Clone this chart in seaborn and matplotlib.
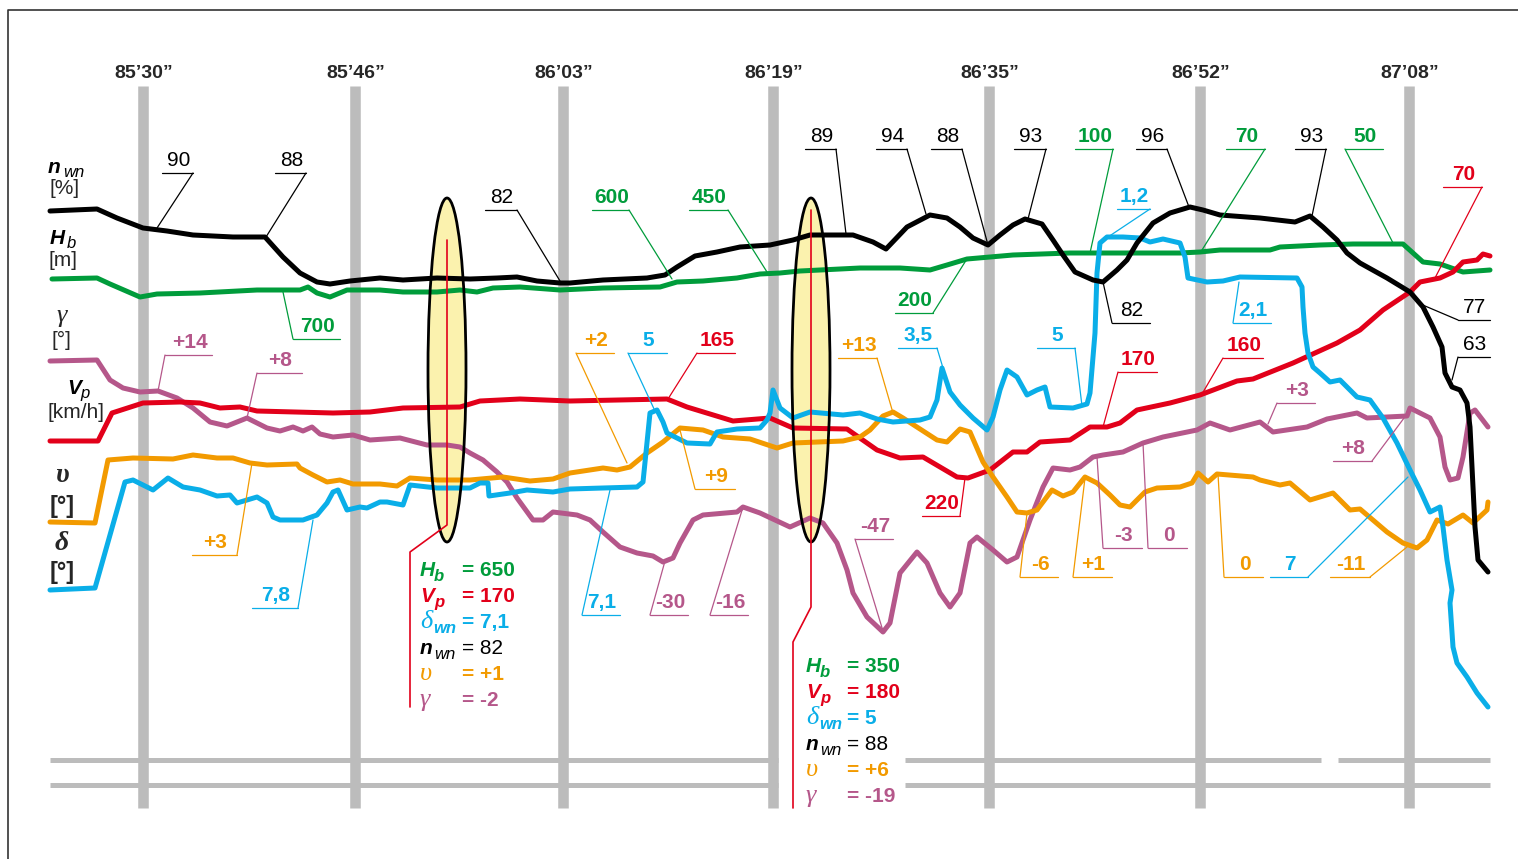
import matplotlib
matplotlib.use('Agg')
import matplotlib.pyplot as plt
from matplotlib import font_manager
from matplotlib.patches import Ellipse
import pandas as pd
import seaborn as sns

# series traces (x along the run, y down the sheet)
nwn_trace = [(50, 211), (97, 209), (117, 218), (143, 228), (167, 231), (193, 235), (233, 237), (265, 237),
             (283, 257), (300, 273), (317, 282), (330, 284), (350, 281), (380, 278), (403, 280), (437, 278),
             (470, 279), (497, 278), (517, 277), (537, 281), (560, 283), (570, 283), (603, 280), (647, 278),
             (665, 275), (677, 267), (695, 256), (717, 252), (740, 247), (770, 245), (793, 240), (810, 235),
             (853, 235), (873, 242), (886, 249), (907, 227), (930, 215), (947, 218), (960, 227), (973, 238),
             (988, 245), (1000, 235), (1013, 225), (1025, 219), (1042, 224), (1053, 240), (1063, 255),
             (1075, 272), (1093, 280), (1103, 282), (1117, 270), (1127, 260), (1137, 243), (1153, 223),
             (1170, 213), (1190, 207), (1203, 210), (1220, 215), (1260, 218), (1295, 222), (1310, 216),
             (1323, 227), (1337, 240), (1347, 253), (1360, 263), (1387, 278), (1410, 292), (1423, 307),
             (1433, 327), (1442, 347), (1445, 373), (1452, 387), (1460, 390), (1467, 403), (1470, 427),
             (1473, 487), (1475, 527), (1478, 560), (1488, 572)]

hb_trace = [(52, 279), (97, 278), (110, 284), (140, 297), (157, 294), (200, 293), (257, 290), (300, 290),
            (308, 287), (317, 293), (330, 297), (347, 290), (380, 290), (403, 292), (437, 292), (460, 290),
            (477, 292), (493, 288), (520, 287), (560, 290), (603, 288), (660, 287), (677, 282), (703, 281),
            (737, 278), (760, 274), (780, 273), (800, 271), (860, 268), (900, 268), (930, 270), (947, 265),
            (967, 259), (1013, 255), (1070, 253), (1137, 253), (1180, 253), (1200, 252), (1220, 250),
            (1270, 250), (1280, 247), (1320, 245), (1353, 244), (1403, 244), (1423, 262), (1440, 264),
            (1463, 272), (1490, 270)]

vp_trace = [(50, 441), (98, 441), (112, 413), (143, 403), (180, 402), (200, 403), (220, 408), (240, 407),
            (257, 411), (333, 413), (370, 412), (403, 408), (460, 407), (480, 401), (520, 399), (570, 401),
            (667, 399), (687, 407), (733, 421), (770, 418), (793, 428), (847, 429), (877, 450), (900, 458),
            (923, 457), (957, 477), (968, 478), (990, 470), (1013, 452), (1027, 452), (1040, 442),
            (1070, 440), (1090, 427), (1107, 427), (1120, 423), (1137, 410), (1170, 403), (1200, 395),
            (1237, 381), (1253, 379), (1293, 363), (1337, 343), (1360, 330), (1383, 310), (1410, 292),
            (1420, 282), (1440, 278), (1453, 272), (1463, 262), (1477, 260), (1483, 254), (1490, 256)]

gamma_trace = [(50, 361), (97, 360), (110, 380), (123, 388), (140, 392), (158, 391), (177, 398), (193, 408),
               (210, 422), (227, 426), (247, 418), (267, 428), (280, 431), (293, 427), (303, 431), (312, 427),
               (320, 434), (333, 437), (353, 435), (370, 440), (400, 438), (427, 445), (447, 445), (460, 447),
               (470, 453), (483, 460), (497, 472), (507, 482), (517, 498), (533, 520), (543, 520), (553, 512),
               (577, 515), (590, 520), (603, 532), (620, 547), (637, 553), (653, 556), (663, 562), (673, 558),
               (680, 543), (693, 520), (703, 515), (737, 512), (743, 507), (760, 513), (790, 527), (810, 518),
               (823, 523), (837, 543), (847, 570), (853, 593), (867, 617), (883, 632), (890, 623), (900, 573),
               (917, 552), (927, 563), (940, 593), (950, 607), (960, 593), (970, 543), (977, 537), (993, 550),
               (1007, 562), (1017, 557), (1030, 520), (1043, 487), (1053, 468), (1070, 470), (1080, 467),
               (1093, 457), (1103, 455), (1123, 452), (1143, 443), (1163, 437), (1197, 430), (1210, 423),
               (1230, 430), (1260, 422), (1273, 432), (1307, 427), (1327, 419), (1357, 413), (1367, 418),
               (1407, 416), (1410, 408), (1430, 418), (1440, 437), (1445, 467), (1450, 480), (1458, 478),
               (1463, 457), (1470, 413), (1475, 410), (1488, 427)]

upsilon_trace = [(50, 522), (95, 523), (108, 460), (133, 458), (173, 459), (193, 455), (217, 458), (233, 458),
                 (250, 463), (267, 465), (297, 464), (300, 468), (313, 475), (327, 482), (340, 480), (353, 484),
                 (380, 484), (397, 486), (410, 478), (437, 480), (470, 480), (503, 477), (530, 481), (553, 479),
                 (570, 473), (603, 468), (617, 470), (630, 467), (647, 453), (663, 442), (680, 428), (703, 430),
                 (723, 437), (750, 439), (777, 448), (793, 443), (843, 441), (860, 437), (870, 430), (883, 416),
                 (893, 412), (903, 418), (920, 429), (937, 440), (947, 442), (960, 429), (970, 432), (983, 462),
                 (993, 477), (1007, 497), (1017, 512), (1027, 513), (1037, 510), (1052, 490), (1063, 496),
                 (1073, 492), (1085, 477), (1097, 483), (1110, 495), (1120, 505), (1130, 507), (1145, 492),
                 (1157, 488), (1180, 487), (1192, 483), (1198, 473), (1208, 482), (1217, 474), (1253, 477),
                 (1260, 480), (1280, 485), (1290, 483), (1310, 500), (1333, 493), (1350, 510), (1360, 509),
                 (1387, 532), (1403, 543), (1417, 548), (1427, 540), (1437, 520), (1448, 524), (1463, 515),
                 (1473, 523), (1487, 510), (1488, 502)]

delta_trace = [(50, 590), (95, 588), (125, 482), (133, 480), (153, 490), (168, 478), (183, 487), (200, 490),
               (217, 496), (230, 495), (237, 503), (257, 497), (267, 503), (273, 517), (280, 520), (303, 520),
               (317, 515), (327, 503), (333, 492), (338, 490), (347, 510), (360, 507), (367, 508), (380, 502),
               (387, 502), (403, 505), (410, 485), (437, 488), (470, 488), (480, 483), (488, 483), (489, 496),
               (510, 493), (527, 490), (553, 492), (570, 489), (603, 488), (637, 487), (643, 482), (650, 413),
               (657, 410), (663, 422), (667, 433), (687, 443), (710, 444), (717, 432), (737, 429), (760, 428),
               (767, 420), (770, 413), (773, 390), (780, 408), (793, 418), (810, 412), (843, 415), (860, 413),
               (877, 419), (893, 422), (920, 420), (930, 417), (937, 400), (942, 368), (950, 392), (960, 405),
               (973, 418), (987, 430), (993, 417), (1000, 390), (1007, 370), (1017, 377), (1027, 395),
               (1037, 390), (1045, 387), (1050, 407), (1073, 408), (1087, 404), (1090, 393), (1095, 333),
               (1097, 273), (1100, 243), (1107, 237), (1123, 237), (1140, 238), (1150, 242), (1163, 239),
               (1180, 243), (1185, 257), (1188, 278), (1207, 282), (1223, 281), (1240, 277), (1297, 278),
               (1302, 287), (1303, 307), (1305, 333), (1308, 353), (1313, 367), (1320, 373), (1330, 382),
               (1340, 380), (1350, 390), (1357, 397), (1370, 400), (1383, 418), (1397, 443), (1410, 470),
               (1420, 490), (1430, 512), (1440, 507), (1443, 527), (1447, 560), (1452, 590), (1450, 603),
               (1453, 647), (1457, 663), (1467, 677), (1477, 693), (1488, 707)]

time_labels = ['85’30”', '85’46”', '86’03”', '86’19”', '86’35”', '86’52”', '87’08”']
time_pos = [143, 355, 563, 773, 989, 1200, 1409]

# callouts: label, series, underline x0, x1, y, side the leader leaves from, point on curve
callouts = [
    ('90', 'n', 162, 193, 173, 'R', 157, 228), ('88', 'n', 275, 306, 173, 'R', 266, 237),
    ('82', 'n', 485, 517, 210, 'R', 560, 281), ('89', 'n', 805, 836, 149, 'R', 846, 234),
    ('94', 'n', 876, 907, 149, 'R', 926, 214), ('88', 'n', 931, 962, 149, 'R', 988, 245),
    ('93', 'n', 1014, 1046, 149, 'R', 1028, 219), ('96', 'n', 1136, 1167, 149, 'R', 1189, 207),
    ('93', 'n', 1295, 1326, 149, 'R', 1312, 216), ('82', 'n', 1112, 1150, 323, 'L', 1103, 282),
    ('77', 'n', 1458, 1490, 320, 'L', 1418, 303), ('63', 'n', 1458, 1490, 357, 'L', 1452, 380),
    ('700', 'H', 293, 340, 339, 'L', 283, 292), ('600', 'H', 592, 629, 210, 'R', 672, 279),
    ('450', 'H', 689, 728, 210, 'R', 767, 272), ('200', 'H', 895, 933, 313, 'R', 965, 262),
    ('100', 'H', 1075, 1113, 149, 'R', 1090, 253), ('70', 'H', 1226, 1265, 149, 'R', 1202, 250),
    ('50', 'H', 1345, 1383, 149, 'L', 1393, 243),
    ('165', 'V', 697, 735, 353, 'L', 668, 399), ('220', 'V', 922, 960, 516, 'R', 965, 478),
    ('170', 'V', 1118, 1157, 372, 'L', 1103, 427), ('160', 'V', 1223, 1263, 358, 'L', 1202, 394),
    ('70', 'V', 1443, 1482, 187, 'R', 1435, 278),
    ('+14', 'g', 165, 212, 355, 'L', 158, 391), ('+8', 'g', 257, 302, 373, 'L', 247, 418),
    ('-30', 'g', 650, 688, 615, 'L', 665, 561), ('-16', 'g', 710, 748, 615, 'L', 743, 507),
    ('-47', 'g', 855, 893, 539, 'L', 883, 631), ('-3', 'g', 1103, 1142, 548, 'L', 1097, 457),
    ('0', 'g', 1148, 1187, 548, 'L', 1143, 443), ('+3', 'g', 1277, 1315, 403, 'L', 1268, 424),
    ('+8', 'g', 1333, 1372, 461, 'R', 1410, 410),
    ('+3', 'u', 192, 237, 555, 'R', 252, 463), ('+2', 'u', 576, 614, 353, 'L', 627, 463),
    ('+9', 'u', 695, 735, 489, 'L', 680, 430), ('+13', 'u', 838, 877, 358, 'R', 893, 413),
    ('-6', 'u', 1020, 1058, 577, 'L', 1027, 513), ('+1', 'u', 1073, 1112, 577, 'L', 1085, 478),
    ('0', 'u', 1224, 1263, 577, 'L', 1218, 474), ('-11', 'u', 1330, 1370, 577, 'R', 1407, 547),
    ('7,8', 'd', 252, 298, 608, 'R', 313, 520), ('5', 'd', 628, 667, 353, 'L', 655, 411),
    ('7,1', 'd', 582, 620, 615, 'L', 610, 490), ('3,5', 'd', 898, 937, 348, 'R', 943, 368),
    ('5', 'd', 1037, 1075, 348, 'R', 1082, 406), ('1,2', 'd', 1117, 1150, 209, 'R', 1108, 237),
    ('2,1', 'd', 1233, 1271, 323, 'L', 1239, 282), ('7', 'd', 1270, 1308, 577, 'R', 1408, 477),
]

marker1_values = ['650', '170', '7,1', '82', '+1', '-2']
marker2_values = ['350', '180', '5', '88', '+6', '-19']

colors = {'n': '#000000', 'H': '#009c3b', 'V': '#e2001a', 'g': '#b5578a', 'u': '#f29a00', 'd': '#0aaee8'}
GREY = '#bcbcbc'

sns.set_style('white')
names = {f.name for f in font_manager.fontManager.ttflist}
print('narrow' if 'Liberation Sans Narrow' in names else 'no narrow')
plt.rcParams['font.family'] = ['Liberation Sans', 'DejaVu Sans']
NARROW = ['Liberation Sans Narrow', 'Liberation Sans'] if 'Liberation Sans Narrow' in names else ['Liberation Sans']
SERIF = ['Liberation Serif', 'DejaVu Serif']

fig = plt.figure(figsize=(15.18, 8.59), dpi=100)
ax = fig.add_axes([0, 0, 1, 1])
ax.set_xlim(0, 1518)
ax.set_ylim(859, 0)
ax.axis('off')

# frame
ax.plot([8, 8, 1518], [859, 10, 10], color='#333333', lw=1.2, zorder=1)

# time grid
for x, lab in zip(time_pos, time_labels):
    ax.plot([x, x], [86, 808], color=GREY, lw=7.6, solid_capstyle='butt', zorder=1)
    ax.text(x + 1, 73, lab, family=NARROW, fontsize=14, fontweight='bold', ha='center', va='center')
for y, segs in [(760, [(50, 778), (905, 1321), (1338, 1490)]), (785, [(50, 778), (905, 1490)])]:
    for a, b in segs:
        ax.plot([a, b], [y, y], color=GREY, lw=3.6, solid_capstyle='butt', zorder=1)

# measuring points
for cx in (447, 811):
    ax.add_patch(Ellipse((cx, 370), 38, 344, facecolor='#fbf2ae', edgecolor='none', zorder=2))

frames = []
for key, tr in [('g', gamma_trace), ('H', hb_trace), ('V', vp_trace), ('u', upsilon_trace),
                ('d', delta_trace), ('n', nwn_trace)]:
    f = pd.DataFrame(tr, columns=['x', 'y'])
    f['series'] = key
    frames.append(f)
df = pd.concat(frames, ignore_index=True)
sns.lineplot(data=df, x='x', y='y', hue='series', hue_order=['g', 'H', 'V', 'u', 'd', 'n'],
             palette=colors, sort=False, estimator=None, linewidth=3.6, legend=False, ax=ax, zorder=3)
ax.set_xlim(0, 1518)
ax.set_ylim(859, 0)

for cx in (447, 811):
    ax.add_patch(Ellipse((cx, 370), 38, 344, facecolor='none', edgecolor='black', lw=2.0, zorder=4))
red = colors['V']
ax.plot([447, 447, 410, 410], [240, 525, 552, 707], color=red, lw=1.2, zorder=5)
ax.plot([811, 811, 793, 793], [210, 607, 642, 808], color=red, lw=1.2, zorder=5)

# callouts
for lab, key, x0, x1, uy, side, cx, cy in callouts:
    c = colors[key]
    sx = x1 if side == 'R' else x0
    ax.plot([x0, x1], [uy, uy], color=c, lw=0.9, zorder=6)
    ax.plot([sx, cx], [uy, cy], color=c, lw=0.9, zorder=6)
    ax.text((x0 + x1) / 2 + 1, uy - 7, lab, color=c, fontsize=15,
            fontweight='normal' if key == 'n' else 'bold', ha='center', va='baseline', zorder=7)

# axis captions on the left
def sym(x, y, main, sub, c='black', size=15, main_font=None, weight='bold', sub_dx=0, sub_weight='normal'):
    t = ax.text(x, y, main, color=c, fontsize=size, fontstyle='italic', fontweight=weight,
                family=main_font or ['Liberation Sans'], ha='left', va='baseline', zorder=7)
    if sub:
        ax.text(x + sub_dx, y + 4, sub, color=c, fontsize=size - 3, fontstyle='italic',
                fontweight=sub_weight, ha='left', va='baseline', zorder=7)
    return t

sym(48, 173, 'n', 'wn', sub_dx=15)
ax.text(65, 189, '[%]', fontsize=15, ha='center', va='center')
sym(50, 244, 'H', 'b', size=15, sub_dx=17)
ax.text(63, 260, '[m]', fontsize=15, ha='center', va='center')
ax.text(62, 316, 'γ', fontsize=19, fontstyle='italic', family=SERIF, ha='center', va='center')
ax.text(61, 340, '[°]', fontsize=15, ha='center', va='center')
sym(67, 394, 'V', 'p', size=15, sub_dx=13)
ax.text(76, 412, '[km/h]', fontsize=15, ha='center', va='center')
ax.text(62, 476, 'υ', fontsize=20, fontstyle='italic', fontweight='bold', family=SERIF, ha='center', va='center')
ax.text(62, 507, '[°]', fontsize=17, fontweight='bold', ha='center', va='center')
ax.text(62, 543, 'δ', fontsize=20, fontstyle='italic', fontweight='bold', family=SERIF, ha='center', va='center')
ax.text(62, 572, '[°]', fontsize=17, fontweight='bold', ha='center', va='center')

# value boxes at the two measuring points
def value_box(x, x_eq, y0, values, step=26):
    rows = [('H', 'b', 'H', 'bold', 'bold'), ('V', 'p', 'V', 'bold', 'bold'), ('δ', 'wn', 'd', 'normal', 'bold'),
            ('n', 'wn', 'n', 'bold', 'normal'), ('υ', '', 'u', 'normal', None), ('γ', '', 'g', 'normal', None)]
    for i, ((m, s, key, w, sw), v) in enumerate(zip(rows, values)):
        y = y0 + i * step
        c = colors[key]
        font = SERIF if m in 'δυγ' else ['Liberation Sans']
        size = 19 if m in 'δυγ' else 15
        ax.text(x, y, m, color=c, fontsize=size, fontstyle='italic', fontweight=w, family=font,
                ha='left', va='baseline', zorder=7)
        if s:
            ax.text(x + (14 if m != 'δ' else 13), y + 5, s, color=c, fontsize=12, fontstyle='italic',
                    fontweight=sw, ha='left', va='baseline', zorder=7)
        ax.text(x_eq, y, '= ' + v, color=c, fontsize=15, fontweight='normal' if key == 'n' else 'bold',
                ha='left', va='baseline', zorder=7)

value_box(420, 462, 576, marker1_values)
value_box(806, 847, 672, marker2_values)

fig.savefig('out.png', dpi=100, facecolor='white')
